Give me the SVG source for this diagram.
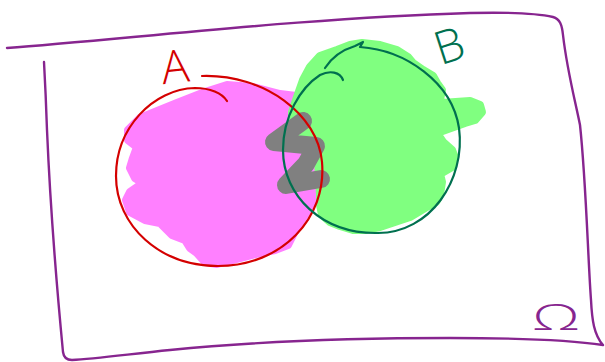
<svg xmlns="http://www.w3.org/2000/svg" width="605" height="362" viewBox="0 0 605 362">
<style>
.ink{fill:none;stroke-linecap:round;stroke-linejoin:round}
.frame{stroke:#87258f;stroke-width:2.4}
.red{stroke:#d40000;stroke-width:2.2}
.teal{stroke:#00704f;stroke-width:2.2}
.blob{stroke-linejoin:round;stroke-linecap:round}
.lbl{font-family:"Open Sans","Liberation Sans",sans-serif;font-weight:300;text-anchor:middle}
</style>
<rect width="605" height="362" fill="#ffffff"/>
<g id="frame">
<path class="ink frame" d="M7,48 C120,40 300,18 470,13 C510,12 540,14 553,17 C560,19 562,25 563,35 C567,70 575,100 580,125 C586,180 588,260 591,300 C592,320 594,335 603,345 C570,340 520,338 450,338 C350,338 250,342 170,350 C130,354 95,359 72,360 Q64,360 63,352 C58,300 50,200 47,130 C46,100 45,80 44,62"/>
<text class="lbl" x="0" y="0" font-size="36" fill="#87258f" transform="translate(556,330) scale(1.7,1)">Ω</text>
</g>
<g id="setA-fill">
<path class="blob" fill="#ff80ff" stroke="#ff80ff" stroke-width="8" d="M140,118 L177,103 L205,92 L227,85 L240,86 L257,88 L280,94 L296,96 L300,118 L318,163 L316,185 L313,200 L305,215 L297,227 L288,245 L275,250 L260,253 L240,258 L217,264 L205,262 L197,253 L190,248 L185,240 L172,235 L160,223 L145,220 L130,212 L126,200 L130,192 L143,183 L135,178 L130,168 L133,158 L137,147 L128,140 L128,130 Z"/>
</g>
<g id="setB-fill">
<path class="blob" fill="#80ff80" stroke="#80ff80" stroke-width="8" d="M310,67 L320,56 L337,50 L350,45 L362,43 L380,45 L397,50 L408,57 L413,63 L423,70 L433,76 L437,83 L442,90 L440,100 L427,104 L470,101 L480,105 L482,112 L475,120 L465,123 L437,133 L443,142 L452,150 L455,158 L452,167 L440,174 L442,182 L440,195 L436,202 L425,208 L410,217 L395,222 L380,227 L365,230 L353,230 L340,226 L330,222 L322,215 L320,205 L320,195 L318,160 L300,140 L292,127 L292,112 L297,97 L303,80 Z"/>
</g>
<g id="intersection">
<polyline class="ink" stroke="#808080" stroke-width="18" points="303,121 274,142 316,146 306,164 286,185 321,179"/>
</g>
<g id="connectors">
<path id="circleA" class="ink red" d="M202,76 C265,74 318,115 322,162 C327,218 282,266 218,266 C160,266 116,226 116,176 C116,128 153,89 195,88 C210,88 222,93 227,101"/>
<path id="circleB" class="ink teal" d="M325,68 C332,57 342,50 355,46 L363,42 L360,47 C405,50 452,82 459,128 C466,180 430,233 378,233 C322,234 283,196 283,150 C283,117 300,88 320,75 C330,70 340,72 343,80"/>
</g>
<g id="labelA">
<text class="lbl" x="175" y="83" font-size="46" fill="#d40000" transform="rotate(-6,175,66)">A</text>
</g>
<g id="labelB">
<text class="lbl" x="449" y="62" font-size="46" fill="#00704f" transform="rotate(-18,449,45)">B</text>
</g>
</svg>
